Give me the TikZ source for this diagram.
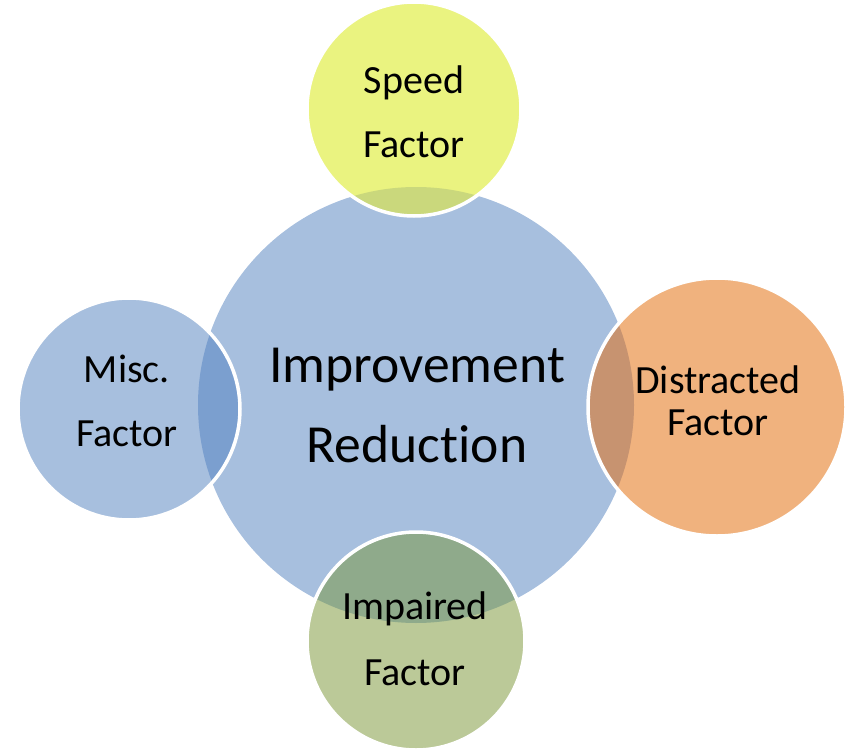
\documentclass[tikz,border=0pt]{standalone}
\usepackage{fontspec}
\setmainfont{Carlito}[Ligatures=NoCommon]
\usetikzlibrary{positioning}
\definecolor{hubblue}{RGB}{167,191,222}
\definecolor{speedyel}{RGB}{234,243,128}
\definecolor{speedov}{RGB}{202,216,124}
\definecolor{miscblue}{RGB}{167,191,222}
\definecolor{miscov}{RGB}{123,159,207}
\definecolor{distor}{RGB}{240,178,126}
\definecolor{distov}{RGB}{199,147,112}
\definecolor{impgreen}{RGB}{187,201,152}
\definecolor{impov}{RGB}{143,170,139}
\tikzset{
  blob/.style={circle,inner sep=0pt},
  lbl/.style={align=center,inner sep=0pt,font=\fontsize{40}{64}\selectfont},
}

\begin{document}
\begin{tikzpicture}[x=1pt,y=-1pt]
\useasboundingbox (0,0) rectangle (849,752);
% circles
\node[blob,minimum size=436pt,fill=hubblue] (hub) at (416,405) {};
\node[blob,minimum size=214pt,fill=speedyel] (speed) at (414,109) {};
\node[blob,minimum size=222pt,fill=miscblue] (misc) at (129,409) {};
\node[blob,minimum size=258pt,fill=distor] (distr) at (717,407) {};
\node[blob,minimum size=218pt,fill=impgreen] (impair) at (416,641) {};
% overlaps with the hub
\begin{scope}
\clip (hub.center) circle[radius=218pt];
\fill[speedov] (speed.center) circle[radius=107pt];
\fill[miscov] (misc.center) circle[radius=111pt];
\fill[distov] (distr.center) circle[radius=129pt];
\fill[impov] (impair.center) circle[radius=109pt];
\end{scope}
\foreach \n/\r in {speed/107,misc/111,distr/129,impair/109}
  \draw[white,line width=3.5pt] (\n.center) circle[radius=\r pt];
% labels
\node[font=\fontsize{53.6}{80}\selectfont,align=center,inner sep=0pt] (hubtxt) at (417,405) {Improvement\\Reduction};
\node[lbl] (speedtxt) at (414,112) {Speed\\Factor};
\node[lbl] (misctxt) at (127,401) {Misc.\\Factor};
\node[lbl,font=\fontsize{40}{42}\selectfont] (distrtxt) at (718,401) {Distracted\\Factor};
\node[lbl,font=\fontsize{40}{66}\selectfont] (impairtxt) at (415,639) {Impaired\\Factor};
\end{tikzpicture}
\end{document}
